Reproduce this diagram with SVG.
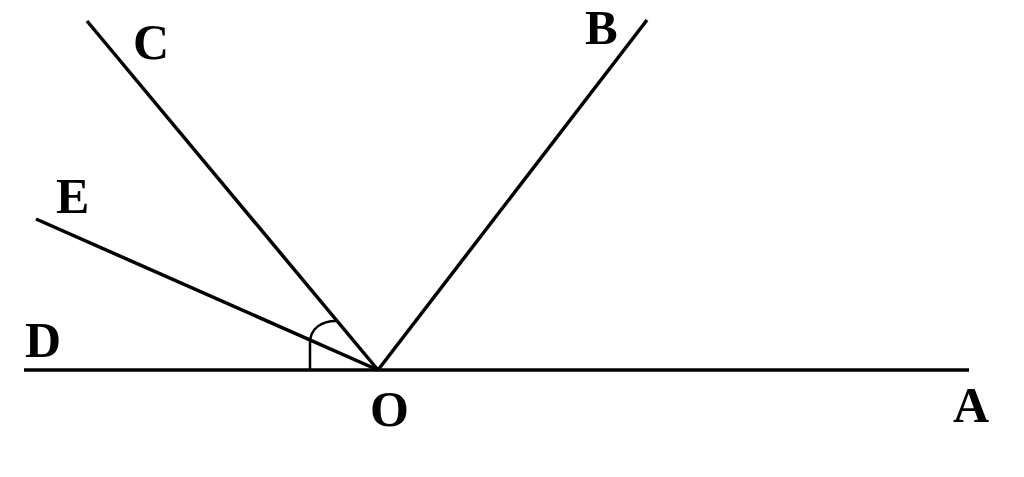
<svg xmlns="http://www.w3.org/2000/svg" width="1024" height="477" viewBox="0 0 1024 477">
<style>
.ln{stroke:#000;stroke-width:3.5;fill:none;stroke-linecap:butt}
.arc{stroke:#000;stroke-width:2.5;fill:none}
.lb{font-family:"Liberation Serif","Times New Roman",serif;font-weight:bold;font-size:50px;fill:#000}
</style>
<rect width="1024" height="477" fill="#fff"/>
<g id="connectors">
<line class="ln" x1="24" y1="370" x2="969" y2="370"/>
<line class="ln" x1="378" y1="370" x2="647" y2="20"/>
<line class="ln" x1="378" y1="370" x2="87" y2="21"/>
<line class="ln" x1="378" y1="370" x2="36" y2="219"/>
<path class="arc" d="M310,370 L310,343 C310,328 322,321 336,321"/>
</g>
<g id="O"><text class="lb" x="370" y="426">O</text></g>
<g id="A"><text class="lb" x="953" y="422">A</text></g>
<g id="B"><text class="lb" x="585" y="44" style="font-size:49px">B</text></g>
<g id="C"><text class="lb" x="133" y="59">C</text></g>
<g id="D"><text class="lb" x="25" y="357">D</text></g>
<g id="E"><text class="lb" x="56" y="213">E</text></g>
</svg>
